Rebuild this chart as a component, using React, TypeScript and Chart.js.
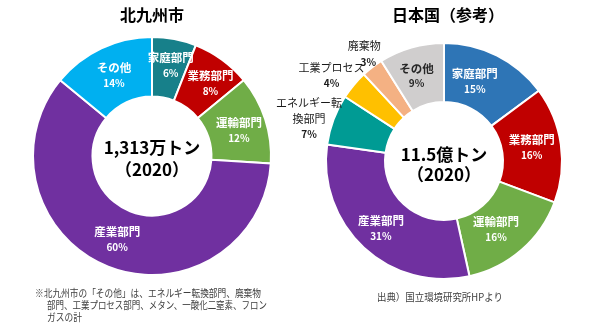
import React, { useEffect, useRef } from "react";
import { Chart, registerables } from "chart.js";

Chart.register(...registerables);

const FONT = '"Noto Sans CJK JP", "Noto Sans", sans-serif';

// Left chart: 北九州市
const leftTitle = "北九州市";
const leftCategories = ["家庭部門", "業務部門", "運輸部門", "産業部門", "その他"];
const leftValues = [6, 8, 12, 60, 14];
const leftColors = ["#17808A", "#C00000", "#70AD47", "#7030A0", "#00B0F0"];
const leftCenter = ["1,313万トン", "（2020）"];

// Right chart: 日本国（参考）
const rightTitle = "日本国（参考）";
const rightCategories = ["家庭部門", "業務部門", "運輸部門", "産業部門", "エネルギー転換部門", "工業プロセス", "廃棄物", "その他"];
const rightValues = [15, 16, 16, 31, 7, 4, 3, 9];
const rightColors = ["#2E75B6", "#C00000", "#70AD47", "#7030A0", "#009B94", "#FFC000", "#F4B183", "#D0CECE"];
const rightCenter = ["11.5億トン", "（2020）"];

const footnote = [
  "※北九州市の「その他」は、エネルギー転換部門、廃棄物",
  "部門、工業プロセス部門、メタン、一酸化二窒素、フロン",
  "ガスの計",
];
const source = "出典）国立環境研究所HPより";

type LabelSpec = {
  lines: string[];
  inside: boolean;
  dark?: boolean;
  dx?: number;
  dy?: number;
  r?: number;
};

function makeChart(
  canvas: HTMLCanvasElement,
  labels: string[],
  values: number[],
  colors: string[],
  padding: { left: number; right: number; top: number; bottom: number },
  specs: LabelSpec[],
  drawExtra: (ctx: CanvasRenderingContext2D, cx: number, cy: number, meta: any) => void
) {
  const labelPlugin = {
    id: "labels",
    afterDraw(chart: any) {
      const ctx: CanvasRenderingContext2D = chart.ctx;
      const meta = chart.getDatasetMeta(0);
      const a0 = meta.data[0];
      const cx = a0.x;
      const cy = a0.y;
      ctx.save();
      ctx.textAlign = "center";
      ctx.textBaseline = "middle";
      meta.data.forEach((arc: any, i: number) => {
        const spec = specs[i];
        if (!spec || spec.lines.length === 0) return;
        const mid = (arc.startAngle + arc.endAngle) / 2;
        let px: number, py: number;
        if (spec.inside) {
          const p = arc.tooltipPosition();
          px = p.x;
          py = p.y;
        } else {
          const r = spec.r || arc.outerRadius + 25;
          px = arc.x + Math.cos(mid) * r;
          py = arc.y + Math.sin(mid) * r;
        }
        px += spec.dx || 0;
        py += spec.dy || 0;
        const n = spec.lines.length;
        const lh = 15.5;
        spec.lines.forEach((t, k) => {
          const isPct = k === n - 1;
          if (spec.inside) {
            ctx.fillStyle = spec.dark ? "#262626" : "#FFFFFF";
            ctx.font = (isPct ? "bold 10px " : "bold 11.5px ") + FONT;
          } else {
            ctx.fillStyle = "#1A1A1A";
            ctx.font = (isPct ? "bold 10px " : "11px ") + FONT;
          }
          ctx.fillText(t, px, py + (k - (n - 1) / 2) * lh);
        });
      });
      ctx.textAlign = "center";
      drawExtra(ctx, cx, cy, meta);
      ctx.restore();
    },
  };

  return new Chart(canvas, {
    type: "doughnut",
    data: {
      labels,
      datasets: [
        {
          data: values,
          backgroundColor: colors,
          borderColor: "#FFFFFF",
          borderWidth: 2,
        },
      ],
    },
    options: {
      responsive: false,
      animation: false,
      cutout: "50%",
      layout: { padding },
      plugins: {
        legend: { display: false },
        tooltip: { enabled: false },
        title: { display: false },
      },
    },
    plugins: [labelPlugin],
  });
}

function pct(v: number[], i: number) {
  return v[i] + "%";
}

export default function App() {
  const leftRef = useRef<HTMLCanvasElement>(null);
  const rightRef = useRef<HTMLCanvasElement>(null);

  useEffect(() => {
    const lv = leftValues;
    const leftSpecs: LabelSpec[] = [
      { lines: [leftCategories[0], pct(lv, 0)], inside: true, dx: 2, dy: -3 },
      { lines: [leftCategories[1], pct(lv, 1)], inside: true, dx: 6, dy: 0 },
      { lines: [leftCategories[2], pct(lv, 2)], inside: true, dx: 2, dy: 2 },
      { lines: [leftCategories[3], pct(lv, 3)], inside: true, dx: -2, dy: 0 },
      { lines: [leftCategories[4], pct(lv, 4)], inside: true, dx: 0, dy: 0 },
    ];
    const rv = rightValues;
    const rightSpecs: LabelSpec[] = [
      { lines: [rightCategories[0], pct(rv, 0)], inside: true, dx: -9, dy: -1 },
      { lines: [rightCategories[1], pct(rv, 1)], inside: true, dx: 0, dy: -1 },
      { lines: [rightCategories[2], pct(rv, 2)], inside: true, dx: -6, dy: 2 },
      { lines: [rightCategories[3], pct(rv, 3)], inside: true, dx: -3, dy: 2 },
      { lines: ["エネルギー転", "換部門", pct(rv, 4)], inside: false, r: 144, dx: 0, dy: 8 },
      { lines: [rightCategories[5], pct(rv, 5)], inside: false, r: 147, dx: 0, dy: 9 },
      { lines: [], inside: false },
      { lines: [rightCategories[7], pct(rv, 7)], inside: true, dark: true, dx: -3, dy: 0 },
    ];

    const left = makeChart(
      leftRef.current!,
      leftCategories,
      leftValues,
      leftColors,
      { left: 32, right: 28, top: 36, bottom: 51 },
      leftSpecs,
      (ctx, cx, cy) => {
        ctx.fillStyle = "#000000";
        ctx.font = "bold 16px " + FONT;
        ctx.fillText(leftTitle, cx, 15);
        ctx.font = "bold 17px " + FONT;
        ctx.fillText(leftCenter[0], cx, cy - 8);
        ctx.fillText(leftCenter[1], cx, cy + 14);
        ctx.fillStyle = "#404040";
        ctx.font = "10.5px " + FONT;
        ctx.textAlign = "left";
        ctx.fillText(footnote[0], 35, 293, 226);
        ctx.fillText(footnote[1], 47, 305, 220);
        ctx.fillText(footnote[2], 47, 317, 35);
      }
    );

    const right = makeChart(
      rightRef.current!,
      rightCategories,
      rightValues,
      rightColors,
      { left: 75, right: 37, top: 42, bottom: 47 },
      rightSpecs,
      (ctx, cx, cy, meta) => {
        ctx.fillStyle = "#000000";
        ctx.font = "bold 16px " + FONT;
        ctx.fillText(rightTitle, cx + 4, 15);
        ctx.font = "bold 17px " + FONT;
        ctx.fillText(rightCenter[0], cx, cy - 6);
        ctx.fillText(rightCenter[1], cx, cy + 14);
        // 廃棄物 label
        const arc = meta.data[6];
        const mid = (arc.startAngle + arc.endAngle) / 2;
        const wx = arc.x + Math.cos(mid) * 136;
        const wy = arc.y + Math.sin(mid) * 136;
        ctx.fillStyle = "#1A1A1A";
        ctx.font = "11px " + FONT;
        ctx.fillText(rightCategories[6], wx + 3, wy - 7);
        ctx.font = "bold 10px " + FONT;
        ctx.fillText(pct(rightValues, 6), wx + 7, wy + 9);
        ctx.fillStyle = "#404040";
        ctx.font = "10px " + FONT;
        ctx.fillText(source, cx - 4, 297, 126);
      }
    );

    return () => {
      left.destroy();
      right.destroy();
    };
  }, []);

  return (
    <div style={{ position: "fixed", left: 0, top: 0, width: 600, height: 327, background: "#FFFFFF" }}>
      <canvas ref={leftRef} width={300} height={327} style={{ position: "absolute", left: 0, top: 0 }} />
      <canvas ref={rightRef} width={350} height={327} style={{ position: "absolute", left: 250, top: 0 }} />
    </div>
  );
}
